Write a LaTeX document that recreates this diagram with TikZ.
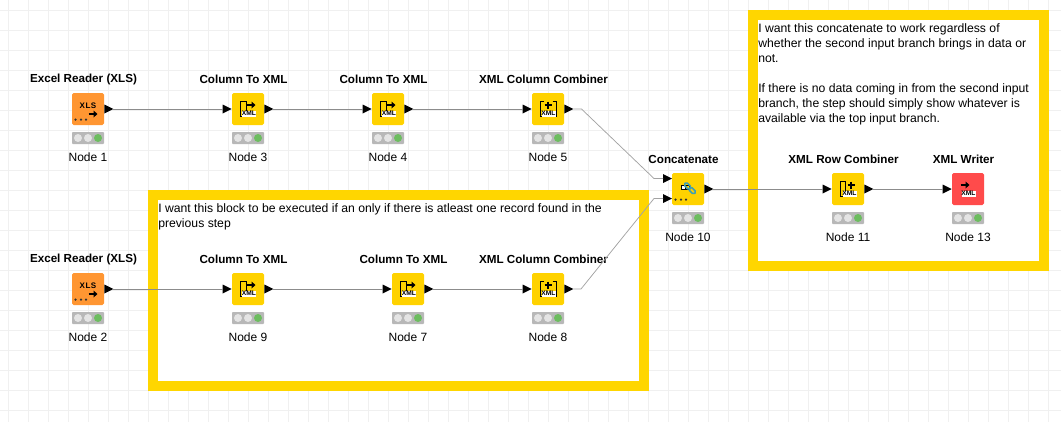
\documentclass[tikz,border=0pt]{standalone}
\usepackage{fontspec}
\setmainfont{Liberation Sans}
\definecolor{gridc}{HTML}{F0F0F0}
\definecolor{annot}{HTML}{FFD600}
\definecolor{mani}{HTML}{FFD200}
\definecolor{srcc}{HTML}{FF9632}
\definecolor{sinkc}{HTML}{FF4B4B}
\definecolor{trafgray}{HTML}{B8B8B8}
\definecolor{trafoff}{HTML}{E4E4E4}
\definecolor{trafgreen}{HTML}{6CBD5F}
\definecolor{connc}{HTML}{8C8C8C}
\definecolor{linkc}{HTML}{3E9FB5}
\tikzset{
  x=0.75pt,y=-0.75pt,
  icon/.style={rounded corners=1.2pt,inner sep=0,minimum size=24pt,draw=none},
  titletext/.style={font=\fontsize{8.75}{11}\selectfont\bfseries,inner sep=0,text=black},
  nodetext/.style={font=\fontsize{9}{11}\selectfont,inner sep=0,text=black},
  notetext/.style={font=\fontsize{9.15}{11.25}\selectfont,inner sep=0,anchor=north west,align=left,text=black},
  port/.style={fill=black,draw=none},
  conn/.style={draw=connc,line width=0.65pt},
  diag/.style={draw=connc!80,line width=0.55pt},
  annotbox/.style={draw=annot,line width=7.5pt,fill=white},
  tiny/.style={font=\fontsize{5}{5}\selectfont\bfseries,inner sep=0,text=black},
  bracket/.style={draw=black,line width=0.75pt},
  arr/.style={draw=black,line width=1pt},
}
\newcommand{\knode}[7]{%
  \node[icon,fill=#4] (#1) at (#2,#3) {};
  \fill[trafgray,rounded corners=0.6pt] (#2-16,#3+23) rectangle (#2+16,#3+35);
  \fill[trafoff] (#2-10,#3+29) circle[radius=4];
  \fill[trafoff] (#2,#3+29) circle[radius=4];
  \fill[trafgreen] (#2+10,#3+29) circle[radius=4];
  \node[titletext] (#1t) at (#2-4.5,#3-30) {#5};
  \node[nodetext] (#1l) at (#2,#3+48) {#6};
  \begin{scope}[shift={(#2,#3)}]#7\end{scope}
}
\newcommand{\outport}[1]{\path[port] (#1.east) +(0,-4.5) -- +(9,0) -- +(0,4.5) -- cycle; \coordinate (#1o) at ([xshift=6.75pt]#1.east);}
\newcommand{\inport}[1]{\path[port] (#1.west) +(-9,-4.5) -- +(0,0) -- +(-9,4.5) -- cycle; \coordinate (#1i) at ([xshift=-6.75pt]#1.west);}
\newcommand{\xmltag}[2]{\fill[white] (#1-7,#2-3) rectangle (#1+7,#2+3); \node[tiny] at (#1,#2) {XML};}
\newcommand{\arrowg}[2]{\draw[arr] (#1-4.5,#2) -- (#1+1,#2); \path[fill=black] (#1+0.5,#2-3.5) -- (#1+4.5,#2) -- (#1+0.5,#2+3.5) -- cycle;}
\newcommand{\dotsg}{\foreach \q in {-12.5,-7,-2}{\fill[black!80] (\q,10.7) circle[radius=1.25];}}
\newcommand{\glyphxls}{\node[tiny,font=\fontsize{6}{6}\selectfont\bfseries] at (0,-3) {X\kern0.4pt L\kern0.4pt S}; \arrowg{5}{5} \dotsg}
\newcommand{\glyphcol}{\draw[bracket] (-1.5,2) -- (-1.5,-8) -- (-7.5,-8) -- (-7.5,7.5) -- (-3,7.5); \arrowg{3}{-4} \xmltag{1}{4.5}}
\newcommand{\glyphcomb}{\draw[bracket] (-4,-8) -- (-7.5,-8) -- (-7.5,7.5) -- (-4,7.5); \draw[bracket] (4.5,-8) -- (8,-8) -- (8,7.5) -- (4.5,7.5); \draw[line width=1.4pt] (0,-7.5) -- (0,-0.5) (-3.5,-4) -- (3.5,-4); \xmltag{0.5}{4.5}}
\newcommand{\glyphrow}{\draw[bracket] (-3,2) -- (-3,-8) -- (-8,-8) -- (-8,7.7) -- (-4,7.7); \draw[line width=1.4pt] (3,-7.5) -- (3,-0.5) (-0.5,-4) -- (6.5,-4); \xmltag{1.5}{4.5}}
\newcommand{\glypwrite}{\arrowg{-3}{-4} \xmltag{0.5}{4.5}}
\newcommand{\glyphcat}{\draw[black,fill=white,line width=0.6pt] (-7,-3.5) rectangle (-3,0.5); \draw[black,line width=0.6pt] (-3,-3.5) rectangle (1,0.5);
  \draw[linkc,line width=1.1pt,rounded corners=1.2pt,rotate around={-45:(2,-0.7)}] (-5,-2.5) rectangle (2.5,1.2);
  \draw[linkc,line width=1.1pt,rounded corners=1.2pt,rotate around={-45:(2,-0.7)}] (1.5,-2.5) rectangle (9,1.2);
  \dotsg}
\begin{document}
\begin{tikzpicture}
\useasboundingbox (0,0) rectangle (1061,422);
\fill[white] (0,0) rectangle (1061,422);
\foreach \gx in {8,28,...,1048}{\draw[gridc,line width=0.75pt] (\gx,0) -- (\gx,422);}
\foreach \gy in {10,30,...,410}{\draw[gridc,line width=0.75pt] (0,\gy) -- (1061,\gy);}
\draw[annotbox] (153,195) rectangle (643.5,386);
\draw[annotbox] (753,15) rectangle (1044,266);
\node[notetext] (na) at (158,203.5) {I want this block to be executed if an only if there is atleast one record found in the\\previous step};
\node[notetext] (nb) at (758,23.5) {I want this concatenate to work regardless of\\whether the second input branch brings in data or\\not.\\\mbox{}\\If there is no data coming in from the second input\\branch, the step should simply show whatever is\\available via the top input branch.};
\knode{n1}{88}{109}{srcc}{Excel Reader (XLS)}{Node 1}{\glyphxls}
\knode{n3}{248}{109}{mani}{Column To XML}{Node 3}{\glyphcol}
\knode{n4}{388}{109}{mani}{Column To XML}{Node 4}{\glyphcol}
\knode{n5}{548}{109}{mani}{XML Column Combiner}{Node 5}{\glyphcomb}
\knode{n10}{688}{189}{mani}{Concatenate}{Node 10}{\glyphcat}
\knode{n11}{848}{189}{mani}{XML Row Combiner}{Node 11}{\glyphrow}
\knode{n13}{968}{189}{sinkc}{XML Writer}{Node 13}{\glypwrite}
\knode{n2}{88}{289}{srcc}{Excel Reader (XLS)}{Node 2}{\glyphxls}
\knode{n9}{248}{289}{mani}{Column To XML}{Node 9}{\glyphcol}
\knode{n7}{408}{289}{mani}{Column To XML}{Node 7}{\glyphcol}
\knode{n8}{548}{289}{mani}{XML Column Combiner}{Node 8}{\glyphcomb}
\foreach \p in {n1,n3,n4,n5,n2,n9,n7,n8,n10,n11}{\outport{\p}}
\foreach \p in {n3,n4,n5,n9,n7,n8,n11,n13}{\inport{\p}}
\path[port] (663,174) -- (672,178.5) -- (663,183) -- cycle;
\path[port] (663,194) -- (672,198.5) -- (663,203) -- cycle;
\coordinate (cat1) at (663,178.5);
\coordinate (cat2) at (663,198.5);
\draw[conn] (n1o) -- (n3i);
\draw[conn] (n3o) -- (n4i);
\draw[conn] (n4o) -- (n5i);
\draw[conn] (n2o) -- (n9i);
\draw[conn] (n9o) -- (n7i);
\draw[conn] (n7o) -- (n8i);
\draw[conn] (n10o) -- (n11i);
\draw[conn] (n11o) -- (n13i);
\draw[diag] (n5o) -- (581.5,109) -- (654,178.5) -- (cat1);
\draw[diag] (n8o) -- (581,289) -- (654,198.5) -- (cat2);
\end{tikzpicture}
\end{document}
